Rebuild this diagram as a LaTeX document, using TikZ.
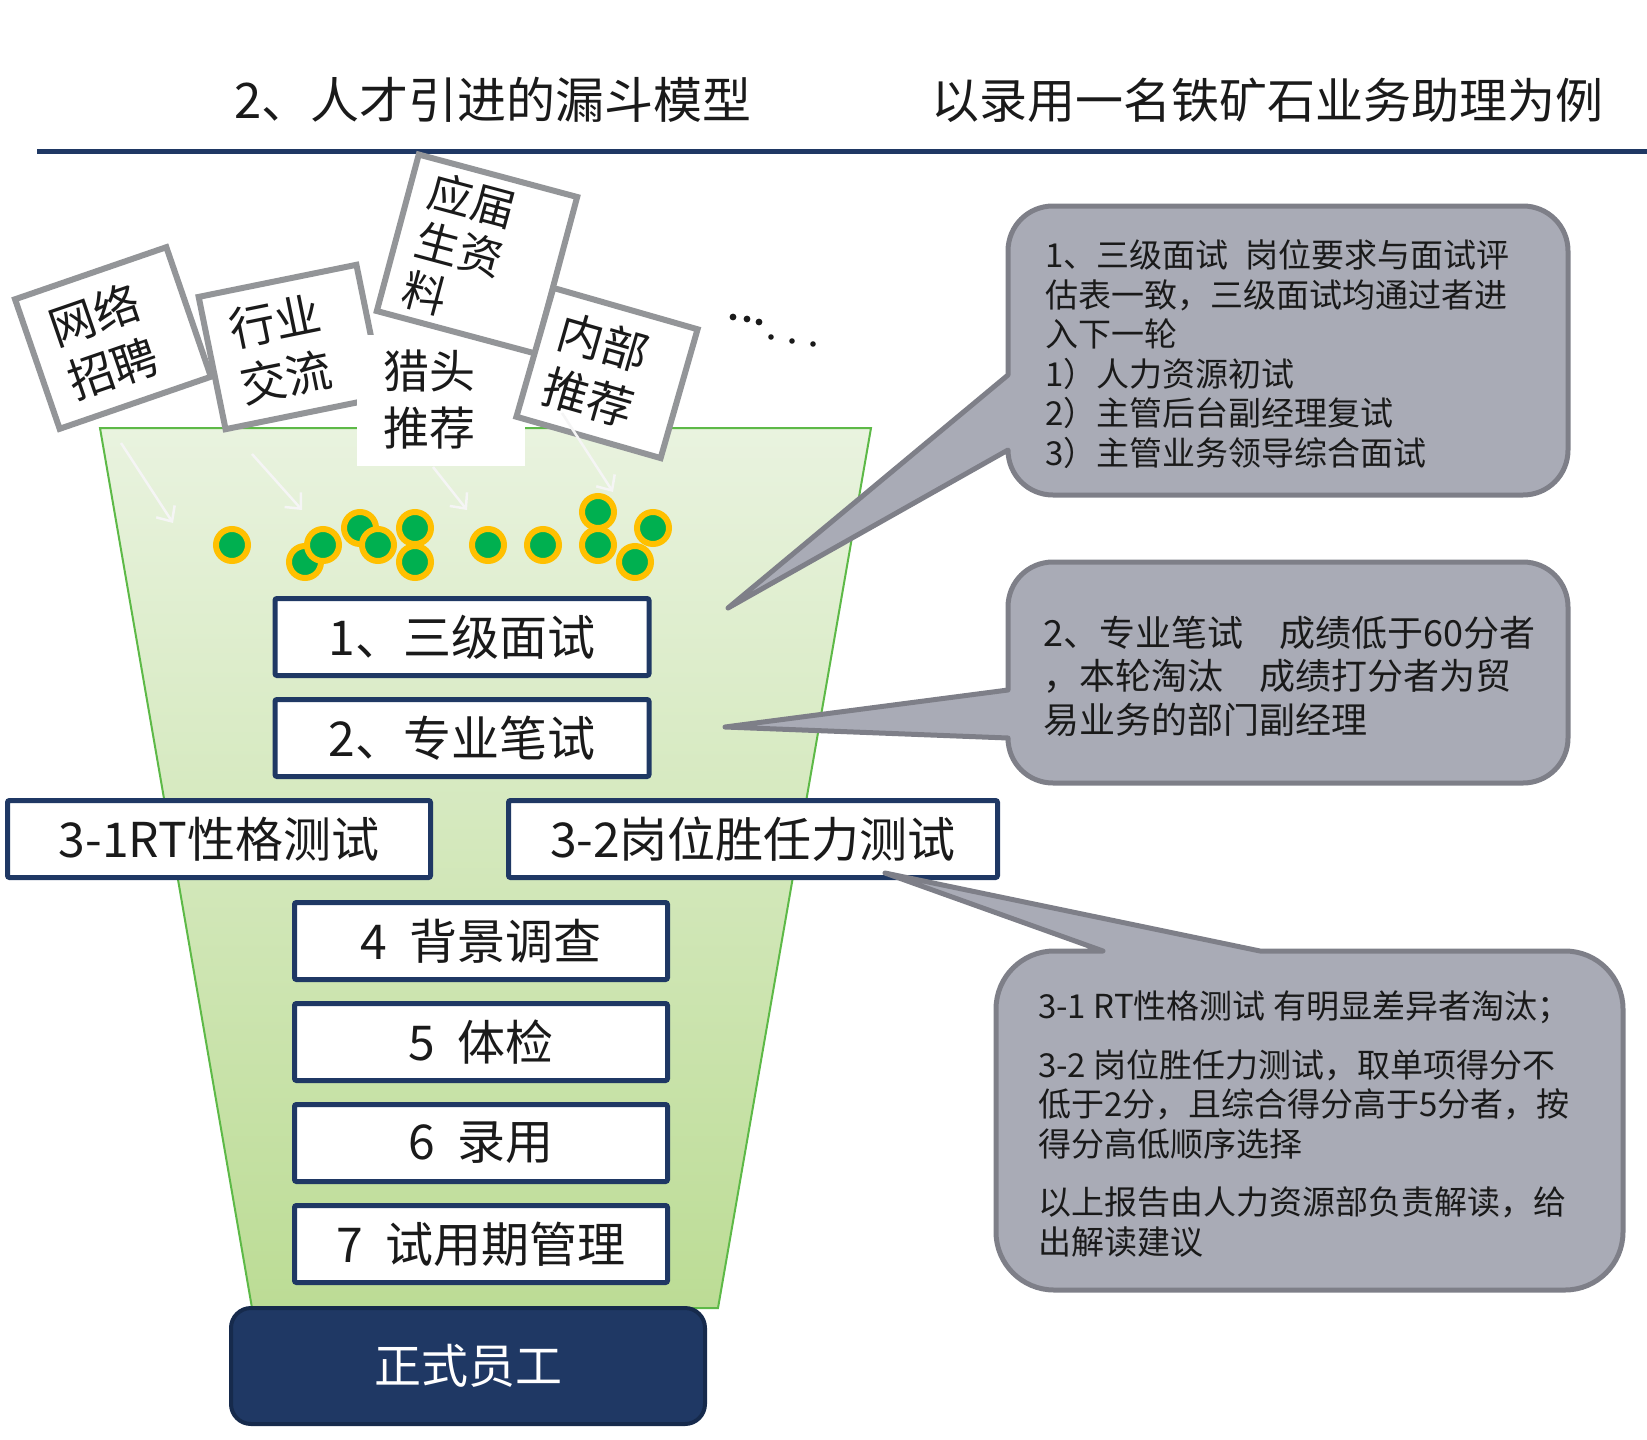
\documentclass[tikz,border=0pt]{standalone}
\usepackage{fontspec}
\setmainfont{Noto Sans CJK SC}
\usepackage{tikz}
\usetikzlibrary{arrows.meta, positioning}

\definecolor{navy}{HTML}{1F3864}
\definecolor{navydark}{HTML}{162A4C}
\definecolor{inkblack}{HTML}{1A1A1A}
\definecolor{cardgrey}{HTML}{939598}
\definecolor{bubblefill}{HTML}{A9ABB6}
\definecolor{bubbleline}{HTML}{7E7F88}
\definecolor{funneltop}{HTML}{E9F3DF}
\definecolor{funnelbot}{HTML}{BCDC95}
\definecolor{funnelline}{HTML}{5DB947}
\definecolor{ballgreen}{HTML}{00B050}
\definecolor{ballorange}{HTML}{FFC000}

\begin{document}
\begin{tikzpicture}[
        x=1pt, y=-1pt,
        every node/.style={text=inkblack},
        titletext/.style={font=\fontsize{49}{58}\selectfont},
        card/.style     ={draw=cardgrey, line width=6pt, fill=white, align=left,
                          inner sep=0pt, font=\fontsize{46}{57}\selectfont},
        stagebox/.style ={draw=navy, line width=5pt, fill=white, rounded corners=2pt,
                          minimum width=374pt, minimum height=77pt, inner sep=0pt,
                          font=\fontsize{48}{56}\selectfont},
        ball/.style     ={circle, fill=ballgreen, draw=ballorange, line width=6pt,
                          minimum size=32pt, inner sep=0pt},
        flow/.style     ={draw=gray!8, line width=2.5pt, -{Straight Barb[length=12pt,width=22pt]}},
        bubble/.style   ={fill=bubblefill, draw=bubbleline, line width=5pt, line join=round},
        note/.style     ={align=left, anchor=west, inner sep=0pt,
                          font=\fontsize{33}{39.5}\selectfont}
    ]
    \useasboundingbox (0,0) rectangle (1647,1440);

    % --- title ---
    \node[titletext] (ttl) at (493,100) {2、人才引进的漏斗模型};
    \node[titletext, font=\fontsize{48}{58}\selectfont] (sub) at (1267,100) {以录用一名铁矿石业务助理为例};
    \draw[navy, line width=5pt] (37,151) -- (1647,151);

    % --- funnel ---
    \shadedraw[draw=funnelline, line width=2pt, top color=funneltop, bottom color=funnelbot]
        (100,428) -- (871,428) -- (718,1308) -- (252,1308) -- cycle;

    \foreach \x/\y [count=\i] in {232/545, 305/562, 323/545, 360/528, 378/545, 415/528, 415/562,
                                  488/545, 543/545, 598/512, 598/545, 653/528, 635/562}
        \node[ball] (b\i) at (\x,\y) {};

    % --- sources ---
    \node[card, rotate=19, minimum width=160pt, minimum height=137pt, text width=112pt]
        (net) at (113,338) {网络\\招聘};
    \node[card, rotate=11.5, minimum width=161pt, minimum height=135pt, text width=113pt]
        (trade) at (291,347) {行业\\交流};
    \node[card, draw=none, minimum width=168pt, minimum height=131pt, text width=116pt]
        (hunt) at (441,400) {猎头\\推荐};
    \node[card, rotate=-15, minimum width=164pt, minimum height=162pt, text width=124pt,
          font=\fontsize{44}{51}\selectfont]
        (grad) at (477,254) {应届\\生资\\料};
    \node[card, rotate=-16, minimum width=150pt, minimum height=134pt, text width=115pt]
        (inner) at (607,373) {内部\\推荐};

    \foreach \x/\y/\r in {733/317/3.4, 747/319/3.4, 759/322/3.4, 771/337/2.8, 792/341/2.8, 813/344/2.8}
        \fill[inkblack] (\x,\y) circle[radius=\r pt];

    \coordinate (f1) at (121,443);  \coordinate (t1) at (173,523);
    \coordinate (f2) at (252,454);  \coordinate (t2) at (302,510);
    \coordinate (f3) at (433,467);  \coordinate (t3) at (467,510);
    \coordinate (f4) at (562,413);  \coordinate (t4) at (613,492);
    \foreach \i in {1,...,4}
        \draw[flow] (f\i) -- (t\i);

    % --- stages ---
    \node[stagebox] (s1) at (462,637) {1、三级面试};
    \node[stagebox, below=19pt of s1] (s2) {2、专业笔试};
    \node[stagebox, minimum width=423pt] (s31) at (219,839) {3-1RT性格测试};
    \node[stagebox, minimum width=489pt] (s32) at (753,839) {3-2岗位胜任力测试};
    \node[stagebox, minimum width=373pt] (s4) at (481,941) {4\hspace{.45em}背景调查};
    \node[stagebox, minimum width=373pt, below=19pt of s4] (s5) {5\hspace{.45em}体检};
    \node[stagebox, minimum width=373pt, below=19pt of s5] (s6) {6\hspace{.45em}录用};
    \node[stagebox, minimum width=373pt, below=19pt of s6] (s7) {7\hspace{.45em}试用期管理};

    \node[draw=navydark, fill=navy, line width=4pt, rounded corners=20pt, minimum width=474pt,
          minimum height=116pt, text=white, font=\fontsize{47}{56}\selectfont]
        (hire) at (468,1366) {正式员工};

    % --- notes ---
    \draw[bubble] (1008,375) -- (728,608) -- (1008,450)
        .. controls (1008,475) and (1028,495) .. (1053,495) -- (1523,495)
        .. controls (1548,495) and (1568,475) .. (1568,450) -- (1568,251)
        .. controls (1568,226) and (1548,206) .. (1523,206) -- (1053,206)
        .. controls (1028,206) and (1008,226) .. (1008,251) -- cycle;
    \node[note] (n1) at (1045,354) {1、三级面试\hspace{.5em}岗位要求与面试评\\估表一致，三级面试均通过者进\\入下一轮\\1）人力资源初试\\2）主管后台副经理复试\\3）主管业务领导综合面试};

    \draw[bubble] (1008,690) -- (725,727) -- (1008,738)
        .. controls (1008,763) and (1028,783) .. (1053,783) -- (1523,783)
        .. controls (1548,783) and (1568,763) .. (1568,738) -- (1568,607)
        .. controls (1568,582) and (1548,562) .. (1523,562) -- (1053,562)
        .. controls (1028,562) and (1008,582) .. (1008,607) -- cycle;
    \node[note, font=\fontsize{36}{43.6}\selectfont] (n2) at (1043,676) {2、专业笔试　成绩低于60分者\\，本轮淘汰　成绩打分者为贸\\易业务的部门副经理};

    \draw[bubble] (1103,951) -- (885,873) -- (1260,951) -- (1565,951)
        .. controls (1597,951) and (1623,977) .. (1623,1009) -- (1623,1232)
        .. controls (1623,1264) and (1597,1290) .. (1565,1290) -- (1054,1290)
        .. controls (1022,1290) and (996,1264) .. (996,1232) -- (996,1009)
        .. controls (996,977) and (1022,951) .. (1054,951) -- cycle;
    \node[note] (n3) at (1038,1124) {3-1 RT性格测试 有明显差异者淘汰；\\[19pt]3-2 岗位胜任力测试，取单项得分不\\低于2分，且综合得分高于5分者，按\\得分高低顺序选择\\[19pt]以上报告由人力资源部负责解读，给\\出解读建议};

\end{tikzpicture}
\end{document}
